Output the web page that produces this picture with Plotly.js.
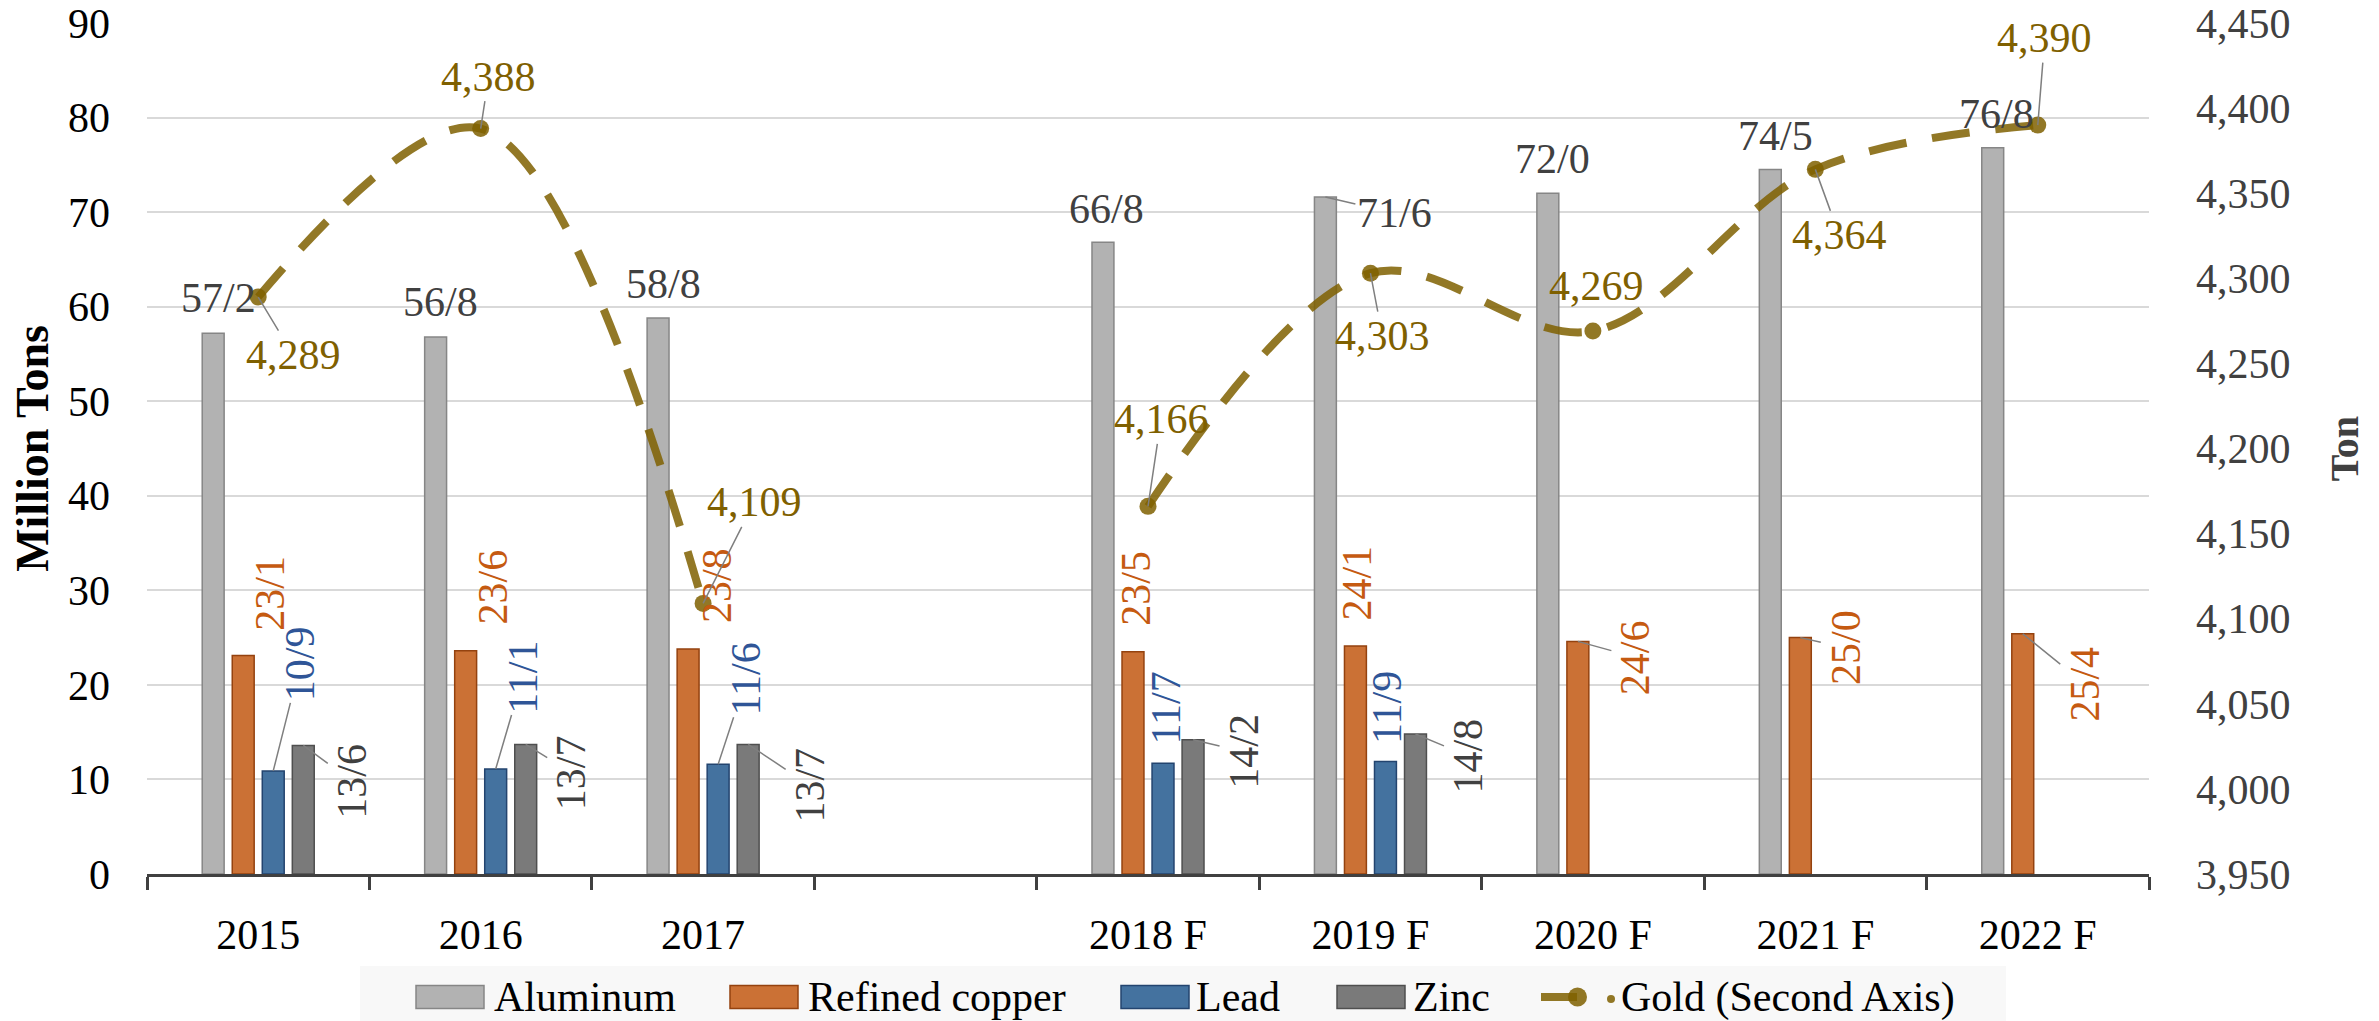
<!DOCTYPE html>
<html>
<head>
<meta charset="utf-8">
<script src="https://cdn.plot.ly/plotly-3.0.1.min.js"></script>
<style>html,body{margin:0;padding:0;background:#fff;}#chart{width:2379px;height:1021px;}</style>
</head>
<body>
<div id="chart"></div>
<script>
// ---- data ----
const categories = ['2015', '2016', '2017', ' ', '2018 F', '2019 F', '2020 F', '2021 F', '2022 F'];
const aluminum = [57.2, 56.8, 58.8, null, 66.8, 71.6, 72.0, 74.5, 76.8];
const copper   = [23.1, 23.6, 23.8, null, 23.5, 24.1, 24.6, 25.0, 25.4];
const lead     = [10.9, 11.1, 11.6, null, 11.7, 11.9, null, null, null];
const zinc     = [13.6, 13.7, 13.7, null, 14.2, 14.8, null, null, null];
const gold     = [4289, 4388, 4109, null, 4166, 4303, 4269, 4364, 4390];
const seriesNames = ['Aluminum', 'Refined copper', 'Lead', 'Zinc', 'Gold (Second Axis)'];

// ---- label placement (pixel offsets dx, dy, leader line flag) ----
const alumOff   = [[5,-35,0],[5,-35,0],[5,-34,0],null,[4,-33,0],[69,16,1],[5,-34,0],[5,-34,0],[4,-34,0]];
const copperOff = [[26,-62,0],[27,-64,0],[29,-63,0],null,[3,-64,0],[2,-63,0],[58,16,1],[45,10,1],[62,50,1]];
const leadOff   = [[27,-107,1],[27,-92,1],[28,-85,1],null,[3,-55,0],[2,-54,0],null,null,null];
const zincOff   = [[49,36,1],[46,28,1],[62,41,1],null,[51,12,1],[53,22,1],null,null,null];
const goldOff   = [[35,58,1],[8,-52,1],[51,-101,1],null,[13,-87,1],[12,63,1],[4,-45,0],[24,66,1],[7,-87,1]];

// ---- styles ----
const FONT = '"Liberation Serif"';
const FS = 42;
const W = 2379, H = 1021;
const M = {l: 147, r: 230, t: 23, b: 147};
const bargap = 0.46, bargroupgap = 0.27;
const slotW = (1 - bargap) / 4;

const fills = ['#B2B2B2', '#CB7135', '#44729F', '#7A7A7A'];
const edges = ['#868686', '#94420F', '#23446F', '#4F4F4F'];
const goldColor = 'rgba(127,96,0,0.85)';

const fmtDec = v => v.toFixed(1).replace('.', '/');
const fmtGold = v => v.toLocaleString('en-US');

function bar(k, y) {
  return {type: 'bar', name: seriesNames[k], x: categories, y,
          marker: {color: fills[k], line: {color: edges[k], width: 1.5}},
          hoverinfo: 'skip', xaxis: 'x', yaxis: 'y', showlegend: false};
}

const traces = [
  bar(0, aluminum), bar(1, copper), bar(2, lead), bar(3, zinc),
  {type: 'scatter', mode: 'lines+markers', name: seriesNames[4], x: categories, y: gold,
   yaxis: 'y2', xaxis: 'x', connectgaps: false, hoverinfo: 'skip', showlegend: false,
   line: {color: goldColor, width: 8, dash: '38px,26px', shape: 'spline', smoothing: 1},
   marker: {color: goldColor, size: 17, symbol: 'circle'}}
];

function label(xi, slot, y, yref, text, off, color, angle) {
  const [dx, dy, leader] = off;
  const base = {x: xi + slot * slotW, y, xref: 'x', yref, text, textangle: angle,
                font: {family: FONT, size: FS, color}};
  if (leader) {
    return Object.assign(base, {showarrow: true, arrowhead: 0, arrowwidth: 1.5, arrowcolor: '#7F7F7F',
                                ax: dx, ay: dy, standoff: 0});
  }
  return Object.assign(base, {showarrow: false, xanchor: 'center', yanchor: 'middle', xshift: dx, yshift: -dy});
}

const annotations = [];
categories.forEach((c, i) => {
  if (aluminum[i] != null) annotations.push(label(i, -1.5, aluminum[i], 'y', fmtDec(aluminum[i]), alumOff[i], '#404040', 0));
  if (copper[i] != null) annotations.push(label(i, -0.5, copper[i], 'y', fmtDec(copper[i]), copperOff[i], '#C55A11', -90));
  if (lead[i] != null) annotations.push(label(i, 0.5, lead[i], 'y', fmtDec(lead[i]), leadOff[i], '#2F5597', -90));
  if (zinc[i] != null) annotations.push(label(i, 1.5, zinc[i], 'y', fmtDec(zinc[i]), zincOff[i], '#404040', -90));
  if (gold[i] != null) annotations.push(label(i, 0, gold[i], 'y2', fmtGold(gold[i]), goldOff[i], '#7F6000', 0));
});

// ---- custom legend (pixel geometry converted to paper coordinates) ----
const px = v => (v - M.l) / (W - M.l - M.r);
const py = v => (H - M.b - v) / (H - M.t - M.b);
const shapes = [];
shapes.push({type: 'rect', xref: 'paper', yref: 'paper', x0: px(360), x1: px(2006), y0: py(966), y1: py(1021),
             fillcolor: '#F8F8F8', line: {width: 0}, layer: 'below'});
const legSwatchX = [416, 730, 1121, 1337];
const legTextX = [492, 806, 1194, 1411];
const legY = 997;
for (let k = 0; k < 4; k++) {
  shapes.push({type: 'rect', xref: 'paper', yref: 'paper', x0: px(legSwatchX[k]), x1: px(legSwatchX[k] + 68),
               y0: py(legY + 11.5), y1: py(legY - 11.5), fillcolor: fills[k], line: {color: edges[k], width: 1.5}});
  annotations.push({xref: 'paper', yref: 'paper', x: px(legTextX[k]), y: py(legY), xanchor: 'left', yanchor: 'middle',
                    text: seriesNames[k], showarrow: false, font: {family: FONT, size: FS, color: '#000000'}});
}
shapes.push({type: 'line', xref: 'paper', yref: 'paper', x0: px(1541), x1: px(1577), y0: py(legY), y1: py(legY),
             line: {color: goldColor, width: 8}});
shapes.push({type: 'circle', xref: 'paper', yref: 'paper', x0: px(1568), x1: px(1587), y0: py(legY - 9.5), y1: py(legY + 9.5),
             fillcolor: goldColor, line: {width: 0}});
shapes.push({type: 'circle', xref: 'paper', yref: 'paper', x0: px(1607), x1: px(1615), y0: py(legY - 2), y1: py(legY + 6),
             fillcolor: goldColor, line: {width: 0}});
annotations.push({xref: 'paper', yref: 'paper', x: px(1619), y: py(legY), xanchor: 'left', yanchor: 'middle',
                  text: seriesNames[4], showarrow: false, font: {family: FONT, size: FS, color: '#000000'}});

const boundaries = categories.map((c, i) => i - 0.5).concat([categories.length - 0.5]);

const layout = {
  width: W, height: H,
  margin: Object.assign({pad: 0, autoexpand: false}, M),
  paper_bgcolor: '#FFFFFF', plot_bgcolor: '#FFFFFF',
  font: {family: FONT, size: FS, color: '#000000'},
  barmode: 'group', bargap, bargroupgap,
  showlegend: false,
  xaxis: {type: 'category', categoryorder: 'array', categoryarray: categories,
          range: [-0.5, categories.length - 0.5], autorange: false,
          showline: true, linecolor: '#404040', linewidth: 3,
          ticks: 'outside', tickson: 'boundaries', ticklen: 13, tickwidth: 3, tickcolor: '#404040',
          ticklabelstandoff: 22, showgrid: false, zeroline: false,
          tickfont: {family: FONT, size: FS, color: '#000000'}},
  xaxis2: {overlaying: 'x', anchor: 'y', type: 'linear', range: [-0.5, categories.length - 0.5],
           autorange: false, tickmode: 'array', tickvals: boundaries, ticks: 'inside', ticklen: 12,
           tickwidth: 3, tickcolor: '#404040', showticklabels: false, showgrid: false,
           showline: false, zeroline: false},
  yaxis: {range: [0, 90], autorange: false, dtick: 10, tick0: 0, showgrid: true,
          gridcolor: '#D9D9D9', gridwidth: 2, zeroline: false, showline: false, ticks: '',
          ticklabelstandoff: 36, tickfont: {family: FONT, size: FS, color: '#000000'},
          title: {text: '<b>Million Tons</b>', font: {family: FONT, size: 46, color: '#000000'}, standoff: 4}},
  yaxis2: {overlaying: 'y', side: 'right', anchor: 'x', range: [3950, 4450], autorange: false,
           dtick: 50, tick0: 3950, tickformat: ',d', showgrid: false, zeroline: false, showline: false,
           ticks: '', ticklabelstandoff: 46,
           tickfont: {family: FONT, size: FS, color: '#404040'},
           title: {text: '<b>Ton</b>', font: {family: FONT, size: 40, color: '#404040'}, standoff: 40}},
  shapes,
  annotations
};

Plotly.newPlot('chart', traces, layout, {displayModeBar: false, staticPlot: true});
</script>
</body>
</html>
